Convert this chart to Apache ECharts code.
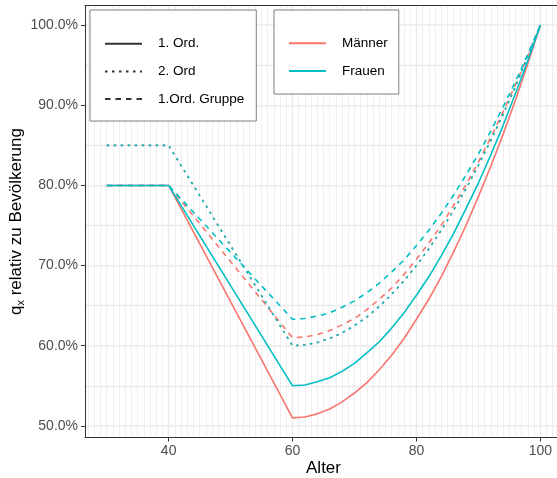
<!DOCTYPE html>
<html><head><meta charset="utf-8">
<script src="https://cdn.jsdelivr.net/npm/echarts@6/dist/echarts.min.js"></script>
<style>html,body{margin:0;padding:0;background:#fff}#c{width:557px;height:478px}</style>
</head><body><div id="c"></div>
<script>
// Data (values in percent)
const ages = [30, 40, 60, 62, 64, 66, 68, 70, 72, 74, 76, 78, 80, 82, 84, 86, 88, 90, 92, 94, 96, 98, 100];
const maennerOrd1 = [80, 80, 51.0, 51.1, 51.5, 52.1, 53.0, 54.1, 55.4, 57.0, 58.8, 60.9, 63.3, 65.8, 68.6, 71.7, 75.0, 78.6, 82.4, 86.4, 90.7, 95.2, 100];
const frauenOrd1  = [80, 80, 55.0, 55.1, 55.5, 56.0, 56.8, 57.8, 59.1, 60.5, 62.2, 64.1, 66.3, 68.6, 71.2, 74.0, 77.1, 80.3, 83.8, 87.5, 91.5, 95.6, 100];
const maennerOrd2 = [85, 85, 60.0, 60.1, 60.4, 60.9, 61.6, 62.5, 63.6, 64.9, 66.4, 68.1, 70.0, 72.1, 74.4, 76.9, 79.6, 82.5, 85.6, 88.9, 92.4, 96.1, 100];
const frauenOrd2  = [85, 85, 60.0, 60.1, 60.4, 60.9, 61.6, 62.5, 63.6, 64.9, 66.4, 68.1, 70.0, 72.1, 74.4, 76.9, 79.6, 82.5, 85.6, 88.9, 92.4, 96.1, 100];
const maennerGruppe = [80, 80, 61.0, 61.1, 61.4, 61.9, 62.6, 63.4, 64.5, 65.8, 67.2, 68.9, 70.8, 72.8, 75.0, 77.5, 80.1, 82.9, 86.0, 89.2, 92.6, 96.2, 100];
const frauenGruppe  = [80, 80, 63.3, 63.4, 63.7, 64.1, 64.8, 65.6, 66.6, 67.8, 69.2, 70.7, 72.5, 74.4, 76.5, 78.8, 81.3, 83.9, 86.8, 89.8, 93.0, 96.4, 100];
const xTicks = [40, 60, 80, 100];
const yTicks = [50, 60, 70, 80, 90, 100];
const colorLabels = ['Männer', 'Frauen'];
const typeLabels = ['1. Ord.', '2. Ord', '1.Ord. Gruppe'];

const FONT = '"Liberation Sans", Arial, Helvetica, sans-serif';
const RED = '#F8766D', CYAN = '#00BFC4', KEY = '#333333';
const DOT = [2.5, 4.5], DASH = [5.5, 5];
const LW = 1.6;
const XMIN = 26.5, XMAX = 103.5, YMIN = 48.55, YMAX = 102.45;
const pts = arr => ages.map((a, i) => [a, arr[i]]);
const mk = (name, arr, color, type) => ({
  name, type: 'line', data: pts(arr), symbol: 'none', showSymbol: false, silent: true,
  lineStyle: { color, width: LW, type }, itemStyle: { color }, z: 3
});
const dummy = (name, color, type) => ({
  name, type: 'line', data: [], symbol: 'none', showSymbol: false,
  lineStyle: { color, width: LW, type }, itemStyle: { color }
});

const minorX = [];
for (let a = 27; a <= 103; a++) minorX.push({ xAxis: a });
const minorY = [55, 65, 75, 85, 95].map(v => ({ yAxis: v }));

const chart = echarts.init(document.getElementById('c'), null, { renderer: 'canvas' });
const legendBase = {
  orient: 'vertical', itemWidth: 37, itemHeight: 14, itemGap: 13.7, z: 6,
  backgroundColor: '#ffffff', borderColor: '#7f7f7f', borderWidth: 1, selectedMode: false,
  itemStyle: { opacity: 0 },
  textStyle: { fontSize: 13.5, color: '#000', fontFamily: FONT, padding: [0, 0, 0, 11] }
};
const borderAxis = { type: 'value', min: XMIN, max: XMAX, z: 4,
  axisLine: { show: true, lineStyle: { color: '#333333', width: 1 } },
  axisTick: { show: false }, axisLabel: { show: false }, splitLine: { show: false } };
chart.setOption({
  animation: false,
  grid: { left: 85, top: 5.5, width: 477, height: 432, show: false, containLabel: false, outerBoundsMode: 'none' },
  legend: [
    Object.assign({}, legendBase, { data: typeLabels, left: 90, top: 10, padding: [26.7, 12, 14.9, 14] }),
    Object.assign({}, legendBase, { data: colorLabels, left: 274, top: 10, padding: [26.3, 11, 16, 14] })
  ],
  xAxis: [{
    type: 'value', min: XMIN, max: XMAX, position: 'bottom', z: 2,
    name: 'Alter', nameLocation: 'middle', nameGap: 22, nameMoveOverlap: false,
    nameTextStyle: { fontSize: 17, color: '#000', fontFamily: FONT },
    axisLine: { show: true, onZero: false, lineStyle: { color: '#333333', width: 1 } },
    axisTick: { show: true, length: 4, customValues: xTicks, lineStyle: { color: '#333333' } },
    axisLabel: { customValues: xTicks, margin: 7, fontSize: 14, color: '#4d4d4d', fontFamily: FONT },
    splitLine: { show: true, lineStyle: { color: '#ebebeb', width: 1.4 } }
  }, Object.assign({ position: 'top' }, borderAxis)],
  yAxis: [{
    type: 'value', min: YMIN, max: YMAX, position: 'left', z: 2,
    name: '{a|q}{b|x}{a| relativ zu Bevölkerung}', nameLocation: 'middle', nameGap: 59, nameRotate: 90,
    nameMoveOverlap: false,
    nameTextStyle: {
      fontSize: 17, color: '#000', fontFamily: FONT,
      rich: {
        a: { fontSize: 17, lineHeight: 20, color: '#000', fontFamily: FONT },
        b: { fontSize: 11, lineHeight: 11, verticalAlign: 'bottom', color: '#000', fontFamily: FONT }
      }
    },
    axisLine: { show: true, onZero: false, lineStyle: { color: '#333333', width: 1 } },
    axisTick: { show: true, length: 4, customValues: yTicks, lineStyle: { color: '#333333' } },
    axisLabel: { customValues: yTicks, margin: 7, fontSize: 14, color: '#4d4d4d', fontFamily: FONT, formatter: v => v.toFixed(1) + '%' },
    splitLine: { show: true, lineStyle: { color: '#ebebeb', width: 1.5 } }
  }],
  series: [
    {
      name: 'gridlines', type: 'line', data: [], silent: true, z: 1,
      markLine: {
        silent: true, symbol: ['none', 'none'], animation: false, z: 1,
        label: { show: false }, emphasis: { disabled: true },
        lineStyle: { color: '#ededed', width: 0.9, type: 'solid' },
        data: minorX
      }
    },
    {
      name: 'gridlinesY', type: 'line', data: [], silent: true, z: 1,
      markLine: {
        silent: true, symbol: ['none', 'none'], animation: false, z: 1,
        label: { show: false }, emphasis: { disabled: true },
        lineStyle: { color: '#ebebeb', width: 1.3, type: 'solid' },
        data: minorY
      }
    },
    dummy('1. Ord.', KEY, 'solid'),
    dummy('2. Ord', KEY, DOT),
    dummy('1.Ord. Gruppe', KEY, DASH),
    dummy('Männer', RED, 'solid'),
    dummy('Frauen', CYAN, 'solid'),
    mk('M 1. Ord.', maennerOrd1, RED, 'solid'),
    mk('M 2. Ord', maennerOrd2, RED, DOT),
    mk('M Gruppe', maennerGruppe, RED, DASH),
    mk('F 1. Ord.', frauenOrd1, CYAN, 'solid'),
    mk('F 2. Ord', frauenOrd2, CYAN, DOT),
    mk('F Gruppe', frauenGruppe, CYAN, DASH)
  ]
});
</script></body></html>
